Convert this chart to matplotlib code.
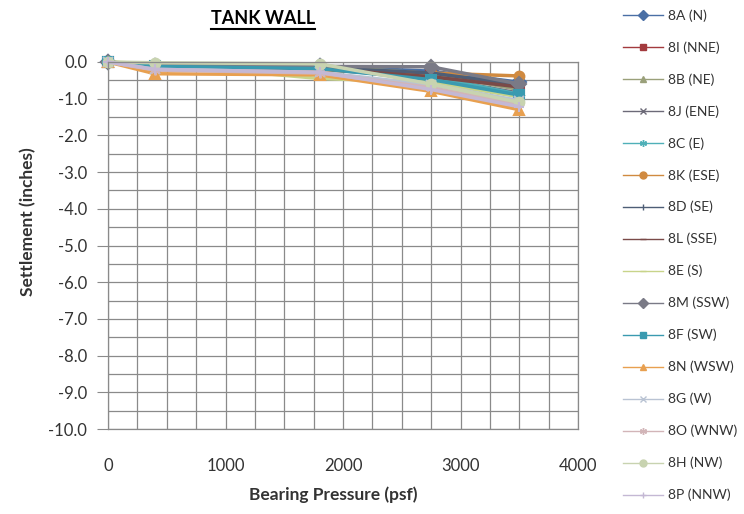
import numpy as np
import matplotlib.pyplot as plt
from matplotlib.lines import Line2D
from matplotlib.ticker import MultipleLocator, FormatStrFormatter

plt.rcParams['font.family'] = ['Lato', 'DejaVu Sans']

# bearing pressure steps (psf)
pressure = [0, 400, 1800, 2750, 3500]

# settlement readings (inches) per survey point
labels = ['8A (N)', '8I (NNE)', '8B (NE)', '8J (ENE)', '8C (E)', '8K (ESE)',
          '8D (SE)', '8L (SSE)', '8E (S)', '8M (SSW)', '8F (SW)', '8N (WSW)',
          '8G (W)', '8O (WNW)', '8H (NW)', '8P (NNW)']
s_8A = [0, -0.10, -0.12, -0.25, -0.55]
s_8I = [0, -0.15, -0.18, -0.35, -0.70]
s_8B = [0, -0.08, -0.10, -0.32, -0.75]
s_8J = [0, -0.15, -0.20, -0.42, -0.85]
s_8C = [0, -0.12, -0.15, -0.40, -0.88]
s_8K = [0, -0.18, -0.22, -0.30, -0.38]
s_8D = [0, -0.12, -0.15, -0.30, -0.62]
s_8L = [0, -0.15, -0.18, -0.40, -0.68]
s_8E = [0, -0.05, -0.45, -0.55, -0.95]
s_8M = [0, -0.10, -0.12, -0.13, -0.60]
s_8F = [0, -0.12, -0.18, -0.48, -0.90]
s_8N = [0, -0.32, -0.35, -0.80, -1.30]
s_8G = [0, -0.20, -0.28, -0.62, -1.05]
s_8O = [0, -0.22, -0.30, -0.70, -1.15]
s_8H = [0, -0.02, -0.05, -0.60, -1.10]
s_8P = [0, -0.20, -0.28, -0.75, -1.22]
series = [s_8A, s_8I, s_8B, s_8J, s_8C, s_8K, s_8D, s_8L,
          s_8E, s_8M, s_8F, s_8N, s_8G, s_8O, s_8H, s_8P]

colors = ['#4A6FA5', '#A33A3E', '#9AA07A', '#6C6A78', '#4FB0B8', '#D08A40',
          '#4E5E76', '#7A4A48', '#C8D48A', '#7A7A86', '#3A9AB0', '#E8A050',
          '#B9C3D3', '#D2B5B8', '#C8D3B0', '#C4B8D4']
asterisk = (6, 2, 0)
markers = ['D', 's', '^', 'x', asterisk, 'o', '|', '_',
           '_', 'D', 's', '^', 'x', asterisk, 'o', '+']

fig = plt.figure(figsize=(7.44, 5.14), dpi=100)
ax = fig.add_axes([108 / 744, 1 - 429 / 514, 470 / 744, 367 / 514])

for lab, y, c, m in zip(labels, series, colors, markers):
    ax.plot(pressure, y, color=c, marker=m, markersize=7, linewidth=2.5,
            markeredgewidth=1.5, label=lab, clip_on=False)

ax.set_xlim(0, 4000)
ax.set_ylim(-10, 0)
ax.xaxis.set_major_locator(MultipleLocator(1000))
ax.xaxis.set_minor_locator(MultipleLocator(250))
ax.yaxis.set_major_locator(MultipleLocator(1))
ax.yaxis.set_minor_locator(MultipleLocator(0.5))
ax.yaxis.set_major_formatter(FormatStrFormatter('%.1f'))
ax.grid(True, which='both', color='#8a8a8a', linewidth=0.9)
ax.set_axisbelow(True)
for sp in ax.spines.values():
    sp.set_color('#8a8a8a')
    sp.set_linewidth(0.9)
ax.tick_params(axis='x', which='both', length=0, pad=21, labelsize=12,
               colors='#333333')
ax.tick_params(axis='y', which='major', length=8, color='#8a8a8a', pad=7,
               labelsize=12, colors='#333333')
ax.tick_params(axis='y', which='minor', length=0)

title = fig.text(263 / 744, 1 - 18 / 514, 'TANK WALL', ha='center',
                 va='center', fontsize=13, fontweight='bold')
fig.text(333 / 744, 1 - 495 / 514, 'Bearing Pressure (psf)', ha='center',
         va='center', fontsize=12.5, fontweight='bold', color='#333333')
fig.text(28 / 744, 1 - 222 / 514, 'Settlement (inches)', ha='center',
         va='center', rotation=90, fontsize=12.5, fontweight='bold',
         color='#333333')

leg = fig.legend(loc='upper left', bbox_to_anchor=(623 / 744, 1 - 9 / 514),
                 frameon=False, fontsize=10, labelspacing=1.4,
                 handlelength=2.9, handletextpad=0.35, borderaxespad=0,
                 borderpad=0)
for t in leg.get_texts():
    t.set_color('#333333')
for h in leg.get_lines():
    h.set_linewidth(1.0)
    h.set_markersize(5)
    h.set_markeredgewidth(1.0)

# underline the title
fig.canvas.draw()
bb = title.get_window_extent()
fig.add_artist(Line2D([bb.x0 / 744, bb.x1 / 744],
                      [(bb.y0 - 2) / 514, (bb.y0 - 2) / 514],
                      color='black', linewidth=1.5, transform=fig.transFigure))

fig.savefig('out.png', dpi=100)
